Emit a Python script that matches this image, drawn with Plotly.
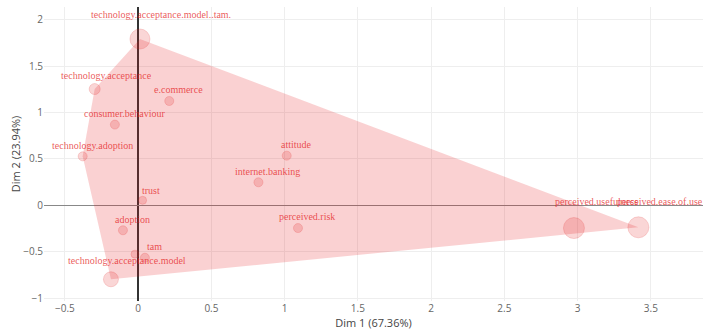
import plotly.graph_objects as go

labels = ["technology.acceptance.model..tam.", "technology.acceptance", "e.commerce",
          "consumer.behaviour", "technology.adoption", "attitude", "internet.banking",
          "trust", "adoption", "perceived.risk", "tam", "",
          "technology.acceptance.model", "perceived.usefulness", "perceived.ease.of.use"]
dim1 = [0.012, -0.297, 0.212, -0.159, -0.379, 1.014, 0.821, 0.030, -0.104, 1.091,
        0.046, -0.022, -0.186, 2.975, 3.415]
dim2 = [1.792, 1.253, 1.124, 0.870, 0.528, 0.535, 0.248, 0.054, -0.269, -0.245,
        -0.565, -0.526, -0.797, -0.245, -0.237]
sizes = [20, 11, 9, 9, 9, 9, 9, 8, 9, 9, 9, 8, 15, 21, 21]

x_title = "Dim 1 (67.36%)"
y_title = "Dim 2 (23.94%)"


def convex_hull(pts):
    pts = sorted(set(pts))
    def cross(o, a, b):
        return (a[0]-o[0])*(b[1]-o[1]) - (a[1]-o[1])*(b[0]-o[0])
    lower, upper = [], []
    for p in pts:
        while len(lower) >= 2 and cross(lower[-2], lower[-1], p) <= 0:
            lower.pop()
        lower.append(p)
    for p in reversed(pts):
        while len(upper) >= 2 and cross(upper[-2], upper[-1], p) <= 0:
            upper.pop()
        upper.append(p)
    return lower[:-1] + upper[:-1]


hull = convex_hull(list(zip(dim1, dim2)))
hx = [p[0] for p in hull] + [hull[0][0]]
hy = [p[1] for p in hull] + [hull[0][1]]

RED = "228,26,28"
fig = go.Figure()
fig.add_trace(go.Scatter(x=hx, y=hy, mode="lines", fill="toself",
                         fillcolor=f"rgba({RED},0.2)", line=dict(width=0),
                         hoverinfo="skip", showlegend=False))
fig.add_trace(go.Scatter(x=dim1, y=dim2, mode="markers", text=labels,
                         marker=dict(size=sizes, color=f"rgba({RED},0.25)",
                                     line=dict(color=f"rgba({RED},0.25)", width=1)),
                         showlegend=False))

for lab, x, y, s in zip(labels, dim1, dim2, sizes):
    if not lab:
        continue
    fig.add_annotation(x=x, y=y, text=lab, showarrow=False,
                       xshift=s * 1.05, yshift=s * 1.25,
                       font=dict(family="Liberation Serif", size=10,
                                 color=f"rgba({RED},0.75)"))

fig.update_layout(
    width=703, height=335,
    margin=dict(l=44, r=0, t=7, b=34),
    paper_bgcolor="white", plot_bgcolor="white",
    font=dict(family="Open Sans", color="#444"),
    xaxis=dict(range=[-0.643, 3.856], dtick=0.5, showgrid=True, gridcolor="#eeeeee",
               zeroline=True, zerolinecolor="#333", zerolinewidth=1.5,
               tickfont=dict(size=10, color="#666"), automargin=False,
               title=dict(text=x_title, font=dict(size=11, color="#444"), standoff=4)),
    yaxis=dict(range=[-1.031, 2.137], dtick=0.5, showgrid=True, gridcolor="#eeeeee",
               zeroline=True, zerolinecolor="#888", zerolinewidth=1,
               tickfont=dict(size=10, color="#666"), automargin=False,
               title=dict(text=y_title, font=dict(size=11, color="#444"), standoff=0)),
)

fig.write_html("out.html", config={"displayModeBar": False},
               post_script="document.body.style.margin='0';document.body.style.padding='0';")
